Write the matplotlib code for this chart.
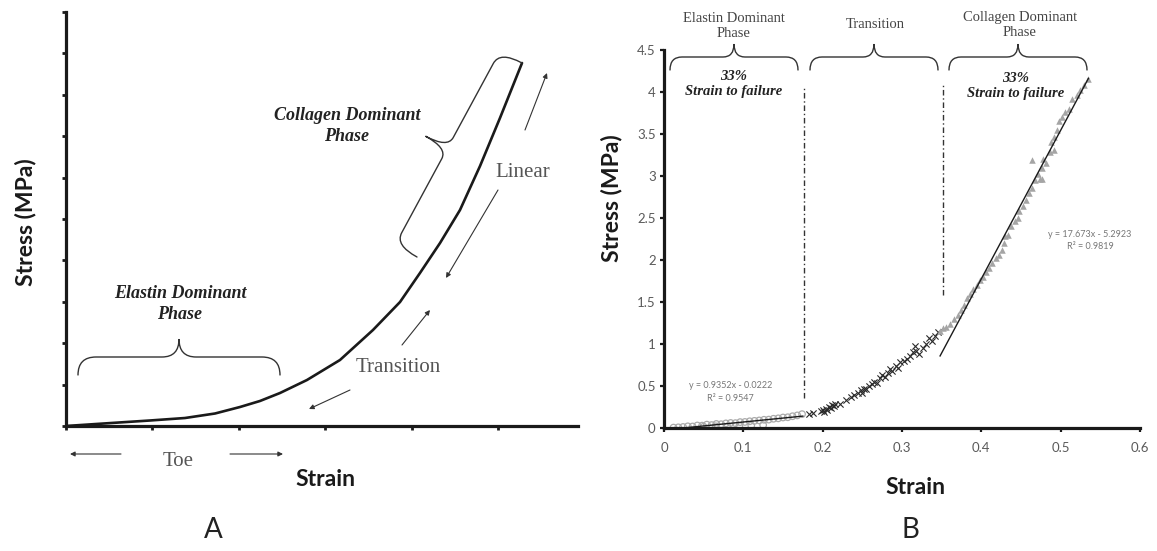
import numpy as np
import matplotlib
matplotlib.use("Agg")
import matplotlib.pyplot as plt
from matplotlib.path import Path
from matplotlib.patches import PathPatch, FancyArrowPatch

W, H = 1157, 551

# panel A: schematic stress-strain curve (tick units)
curve_strain = [0.0, 0.521, 0.972, 1.377, 1.725, 2.014, 2.245, 2.477, 2.789,
                3.171, 3.553, 3.866, 4.097, 4.329, 4.560, 4.792, 5.023, 5.278]
curve_stress = [0.0, 0.072, 0.133, 0.193, 0.302, 0.459, 0.604, 0.797, 1.111,
                1.594, 2.319, 2.995, 3.696, 4.420, 5.217, 6.280, 7.440, 8.768]

# panel B: measured points per phase
elastin_strain = [0.012, 0.018, 0.024, 0.030, 0.036, 0.042, 0.048, 0.054, 0.060,
                  0.066, 0.072, 0.078, 0.084, 0.090, 0.096, 0.102, 0.108, 0.114,
                  0.120, 0.126, 0.132, 0.138, 0.144, 0.150, 0.156, 0.162, 0.168,
                  0.174, 0.050, 0.065, 0.080, 0.095, 0.110, 0.125]
elastin_stress = [0.005, 0.008, 0.012, 0.020, 0.018, 0.030, 0.028, 0.040, 0.035,
                  0.048, 0.045, 0.055, 0.060, 0.058, 0.070, 0.072, 0.080, 0.085,
                  0.090, 0.098, 0.100, 0.110, 0.115, 0.125, 0.128, 0.140, 0.150,
                  0.165, 0.015, 0.020, 0.018, 0.025, 0.030, 0.035]

trans_strain = [0.183, 0.188, 0.198, 0.200, 0.202, 0.204, 0.206, 0.208, 0.210,
                0.212, 0.214, 0.216, 0.222, 0.230, 0.236, 0.240, 0.244, 0.248,
                0.250, 0.252, 0.255, 0.258, 0.262, 0.265, 0.268, 0.272, 0.275,
                0.278, 0.282, 0.285, 0.288, 0.292, 0.295, 0.298, 0.302, 0.306,
                0.310, 0.314, 0.316, 0.318, 0.322, 0.326, 0.330, 0.334, 0.338,
                0.342, 0.346]
trans_stress = [0.17, 0.18, 0.20, 0.22, 0.19, 0.23, 0.21, 0.25, 0.24,
                0.27, 0.26, 0.28, 0.29, 0.33, 0.37, 0.39, 0.42, 0.45,
                0.42, 0.47, 0.46, 0.50, 0.52, 0.55, 0.53, 0.60, 0.63,
                0.61, 0.66, 0.70, 0.68, 0.74, 0.72, 0.78, 0.80, 0.82,
                0.86, 0.90, 0.98, 0.92, 0.88, 0.95, 1.00, 1.07, 1.04,
                1.10, 1.14]

coll_strain = [0.348, 0.352, 0.356, 0.360, 0.365, 0.370, 0.374, 0.378, 0.382,
               0.386, 0.390, 0.394, 0.398, 0.402, 0.406, 0.410, 0.414, 0.418,
               0.422, 0.426, 0.428, 0.430, 0.434, 0.438, 0.442, 0.446, 0.448,
               0.452, 0.456, 0.460, 0.464, 0.468, 0.472, 0.474, 0.476, 0.478,
               0.482, 0.486, 0.488, 0.492, 0.496, 0.498, 0.502, 0.506, 0.510,
               0.514, 0.520, 0.524, 0.530, 0.534, 0.464, 0.477, 0.492]
coll_stress = [1.15, 1.19, 1.20, 1.24, 1.30, 1.35, 1.40, 1.47, 1.55,
               1.60, 1.66, 1.70, 1.76, 1.80, 1.86, 1.90, 1.96, 2.02,
               2.06, 2.12, 2.20, 2.28, 2.30, 2.40, 2.46, 2.50, 2.58,
               2.64, 2.72, 2.80, 2.86, 2.95, 3.02, 2.96, 3.10, 3.20,
               3.15, 3.28, 3.40, 3.46, 3.55, 3.65, 3.70, 3.76, 3.80,
               3.92, 3.96, 4.02, 4.08, 4.16, 3.19, 2.97, 3.31]

# linear fits (slope, intercept) and the strain span they cover
elastin_fit = (0.9352, -0.0222)
elastin_span = [0.010, 0.175]
coll_fit = (17.673, -5.2923)
coll_span = [0.348, 0.535]

# phase boundaries (strain, lower and upper stress)
bound_strain = [0.176, 0.352]
bound_low = [0.36, 1.58]
bound_high = [4.05, 4.11]

xticks_b = [0, 0.1, 0.2, 0.3, 0.4, 0.5, 0.6]
xlabels_b = ['0', '0.1', '0.2', '0.3', '0.4', '0.5', '0.6']
yticks_b = [0, 0.5, 1, 1.5, 2, 2.5, 3, 3.5, 4, 4.5]
ylabels_b = ['0', '0.5', '1', '1.5', '2', '2.5', '3', '3.5', '4', '4.5']

SANS = 'Lato'
SERIF = 'Liberation Serif'
INK = '#1a1a1a'


def px(x, y):
    # pixel position (y from top) -> figure fraction
    return (x / W, 1 - y / H)


def brace(fig, p0, p1, h, r, r2, lw=1.0, color='#333333'):
    p0 = np.array(p0, float)
    p1 = np.array(p1, float)
    d = p1 - p0
    L = np.hypot(*d)
    u = d / L
    v = np.array([u[1], -u[0]])
    local = [(0, 0), (0, h), (r, h), (L / 2 - r2, h), (L / 2, h), (L / 2, 2 * h),
             (L / 2, h), (L / 2 + r2, h), (L - r, h), (L, h), (L, 0)]
    codes = [Path.MOVETO, Path.CURVE3, Path.CURVE3, Path.LINETO, Path.CURVE3,
             Path.CURVE3, Path.CURVE3, Path.CURVE3, Path.LINETO, Path.CURVE3,
             Path.CURVE3]
    verts = [px(*(p0 + s * u + t * v)) for s, t in local]
    fig.add_artist(PathPatch(Path(verts, codes), transform=fig.transFigure,
                             fill=False, lw=lw, ec=color, capstyle='round'))


def arrow(fig, start, end, color='#333333'):
    fig.add_artist(FancyArrowPatch(px(*start), px(*end), transform=fig.transFigure,
                                   arrowstyle='-|>', mutation_scale=7, lw=0.8,
                                   color=color, shrinkA=0, shrinkB=0))


def ftext(fig, x, y, s, **kw):
    fig.text(x / W, 1 - y / H, s, ha='center', va='center', **kw)


fig = plt.figure(figsize=(W / 100, H / 100), dpi=100)
fig.patch.set_facecolor('white')

# ---------------- panel A ----------------
ax_a = fig.add_axes([66 / W, (H - 426) / H, (578 - 66) / W, (426 - 12) / H])
ax_a.plot(curve_strain, curve_stress, color=INK, lw=1.9, solid_capstyle='round',
          solid_joinstyle='round')
ax_a.set_xlim(0, 512 / 86.4)
ax_a.set_ylim(0, 10)
ax_a.set_xticks(range(0, 6))
ax_a.set_yticks(range(0, 11))
ax_a.set_xticklabels([])
ax_a.set_yticklabels([])
for s in ['top', 'right']:
    ax_a.spines[s].set_visible(False)
for s in ['left', 'bottom']:
    ax_a.spines[s].set_linewidth(2.3)
    ax_a.spines[s].set_color(INK)
ax_a.tick_params(direction='out', length=3, width=2, color=INK)

ftext(fig, 26, 222, 'Stress (MPa)', rotation=90, family=SANS, weight='bold',
      fontsize=16.5, color=INK)
ftext(fig, 325, 479, 'Strain', family=SANS, weight='bold', fontsize=16.5, color=INK)
ftext(fig, 213, 530, 'A', family=SANS, fontsize=20, color='#222222')

ftext(fig, 180, 304, 'Elastin Dominant\nPhase', family=SERIF, style='italic',
      weight='bold', fontsize=13, color='#222222', linespacing=1.3)
ftext(fig, 347, 126, 'Collagen Dominant\nPhase', family=SERIF, style='italic',
      weight='bold', fontsize=13, color='#222222', linespacing=1.3)
ftext(fig, 523, 172, 'Linear', family=SERIF, fontsize=15, color='#555555')
ftext(fig, 398, 367, 'Transition', family=SERIF, fontsize=15, color='#555555')
ftext(fig, 178, 462, 'Toe', family=SERIF, fontsize=15, color='#555555')

brace(fig, (78, 375), (280, 375), 18, 18, 17, lw=1.0)
brace(fig, (417, 257), (522, 63), 25, 14, 12, lw=1.0)

arrow(fig, (525, 130), (547, 73))
arrow(fig, (498, 190), (446, 278))
arrow(fig, (402, 345), (430, 310))
arrow(fig, (350, 390), (309, 409))
arrow(fig, (121, 454), (70, 454))
arrow(fig, (230, 454), (283, 454))

# ---------------- panel B ----------------
ax_b = fig.add_axes([664 / W, (H - 428) / H, (1140 - 664) / W, (428 - 50) / H])
ax_b.scatter(elastin_strain, elastin_stress, s=22, marker='o', facecolors='none',
             edgecolors='#aaaaaa', linewidths=0.9, zorder=2)
ax_b.scatter(trans_strain, trans_stress, s=20, marker='x', color='#2a2a2a',
             linewidths=0.8, zorder=2)
ax_b.scatter(coll_strain, coll_stress, s=22, marker='^', color='#a5a5a5',
             linewidths=0, zorder=2)

xs = np.array(elastin_span)
ax_b.plot(xs, elastin_fit[0] * xs + elastin_fit[1], color=INK, lw=1.0, zorder=3)
xs = np.array(coll_span)
ax_b.plot(xs, coll_fit[0] * xs + coll_fit[1], color=INK, lw=1.0, zorder=3)

for xb, lo, hi in zip(bound_strain, bound_low, bound_high):
    ax_b.plot([xb, xb], [lo, hi], color='#333333', lw=1.0, dashes=(4, 2, 1, 2))

ax_b.set_xlim(0, 0.6)
ax_b.set_ylim(0, 4.5)
ax_b.set_xticks(xticks_b)
ax_b.set_xticklabels(xlabels_b)
ax_b.set_yticks(yticks_b)
ax_b.set_yticklabels(ylabels_b)
for s in ['top', 'right']:
    ax_b.spines[s].set_visible(False)
for s in ['left', 'bottom']:
    ax_b.spines[s].set_linewidth(2.3)
    ax_b.spines[s].set_color(INK)
ax_b.tick_params(direction='out', length=3, width=1.6, color=INK,
                 labelcolor='#5a5a5a', labelsize=9.5)
ax_b.tick_params(axis='x', pad=7)
ax_b.tick_params(axis='y', pad=3)
for lab in ax_b.get_xticklabels() + ax_b.get_yticklabels():
    lab.set_family(SANS)

ax_b.text(0.084, 0.43, 'y = 0.9352x - 0.0222\nR² = 0.9547', ha='center', va='center',
          family=SANS, fontsize=6.5, color='#777777', linespacing=1.5)
ax_b.text(0.537, 2.23, 'y = 17.673x - 5.2923\nR² = 0.9819', ha='center', va='center',
          family=SANS, fontsize=6.5, color='#777777', linespacing=1.5)

ftext(fig, 612, 198, 'Stress (MPa)', rotation=90, family=SANS, weight='bold',
      fontsize=16.5, color=INK)
ftext(fig, 915, 487, 'Strain', family=SANS, weight='bold', fontsize=16.5, color=INK)
ftext(fig, 910, 530, 'B', family=SANS, fontsize=20, color='#222222')

brace(fig, (670, 70), (798, 70), 13, 12, 11, lw=1.0)
brace(fig, (810, 70), (938, 70), 13, 12, 11, lw=1.0)
brace(fig, (949, 70), (1087, 70), 13, 12, 11, lw=1.0)

ftext(fig, 734, 26, 'Elastin Dominant\nPhase', family=SERIF, fontsize=10.5,
      color='#444444', linespacing=1.2)
ftext(fig, 875, 25, 'Transition', family=SERIF, fontsize=10.5, color='#444444')
ftext(fig, 1020, 25, 'Collagen Dominant\nPhase', family=SERIF, fontsize=10.5,
      color='#444444', linespacing=1.2)

ftext(fig, 734, 84, '33%\nStrain to failure', family=SERIF, style='italic',
      weight='bold', fontsize=10.5, color='#222222', linespacing=1.3)
ftext(fig, 1016, 86, '33%\nStrain to failure', family=SERIF, style='italic',
      weight='bold', fontsize=10.5, color='#222222', linespacing=1.3)

fig.savefig('out.png', dpi=100)
